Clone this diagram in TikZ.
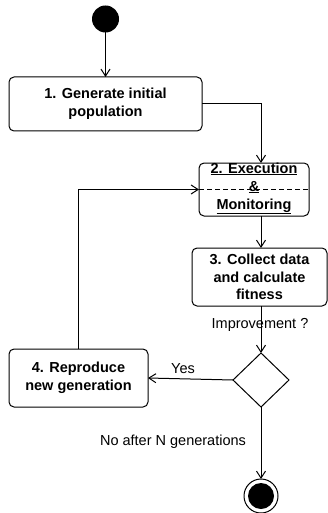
\documentclass[tikz,border=0pt]{standalone}
\usepackage{fontspec}
\setmainfont{Liberation Sans}
\usetikzlibrary{arrows.meta,shapes.geometric}
\begin{document}
\begin{tikzpicture}[x=1pt,y=-1pt,
  every node/.style={inner sep=0pt,outer sep=0pt},
  act/.style={draw,line width=1pt,rounded corners=5pt,align=center,
    font=\fontsize{14.5}{17.5}\selectfont\bfseries},
  lbl/.style={font=\fontsize{14.5}{17.5}\selectfont},
  flow/.style={line width=1pt,-{Straight Barb[length=7pt,width=9pt,line width=1pt]}},
  plain/.style={line width=1pt}]
\useasboundingbox (0,0) rectangle (328,513);
\node[fill=black,circle,minimum size=27pt] (start) at (105.5,19) {};
\node[act,minimum width=193pt,minimum height=54pt] (b1) at (105.5,104) {1. Generate initial\\population};
\node[act,minimum width=110pt,minimum height=53pt] (b2) at (254,189.5) {};
\node[act,minimum width=135pt,minimum height=58pt] (b3) at (259.5,277) {3. Collect data\\and calculate\\fitness};
\node[act,minimum width=139pt,minimum height=58pt] (b4) at (78.5,378) {4. Reproduce\\new generation};
\node[draw,line width=1pt,diamond,minimum width=56pt,minimum height=54pt] (dia) at (261,380) {};
\node[draw,line width=1pt,circle,minimum size=34pt] (end) at (261,496) {};
\node[fill=black,circle,minimum size=26pt] (endin) at (261,496) {};
\coordinate (col) at (261,0);
% box 2 contents
\draw[line width=1pt,dash pattern=on 5pt off 3pt] (b2.west) -- (b2.east);
\node[font=\fontsize{14.5}{17.5}\selectfont\bfseries,anchor=base] (t2a) at (254,173) {\underline{2. Execution}};
\node[font=\fontsize{14.5}{17.5}\selectfont\bfseries,anchor=base] (t2b) at (254,191) {\underline{\&}};
\node[font=\fontsize{14.5}{17.5}\selectfont\bfseries,anchor=base] (t2c) at (254,209) {\underline{Monitoring}};
% connectors
\draw[flow] (start) -- (b1);
\draw[flow] (b1.east) -| (b2.north -| col);
\draw[flow] (b2.south -| col) -- (b3.north -| col);
\draw[flow] (b3.south -| col) -- (dia.north);
\draw[flow] (dia.west) -- (b4.east);
\draw[flow] (b4.north) |- (b2.west);
\draw[flow] (dia.south) -- (end.north);
% labels
\node[lbl] (limp) at (260,325) {Improvement ?};
\node[lbl] (lyes) at (183,369) {Yes};
\node[lbl] (lno) at (173,442) {No after N generations};
\end{tikzpicture}
\end{document}
